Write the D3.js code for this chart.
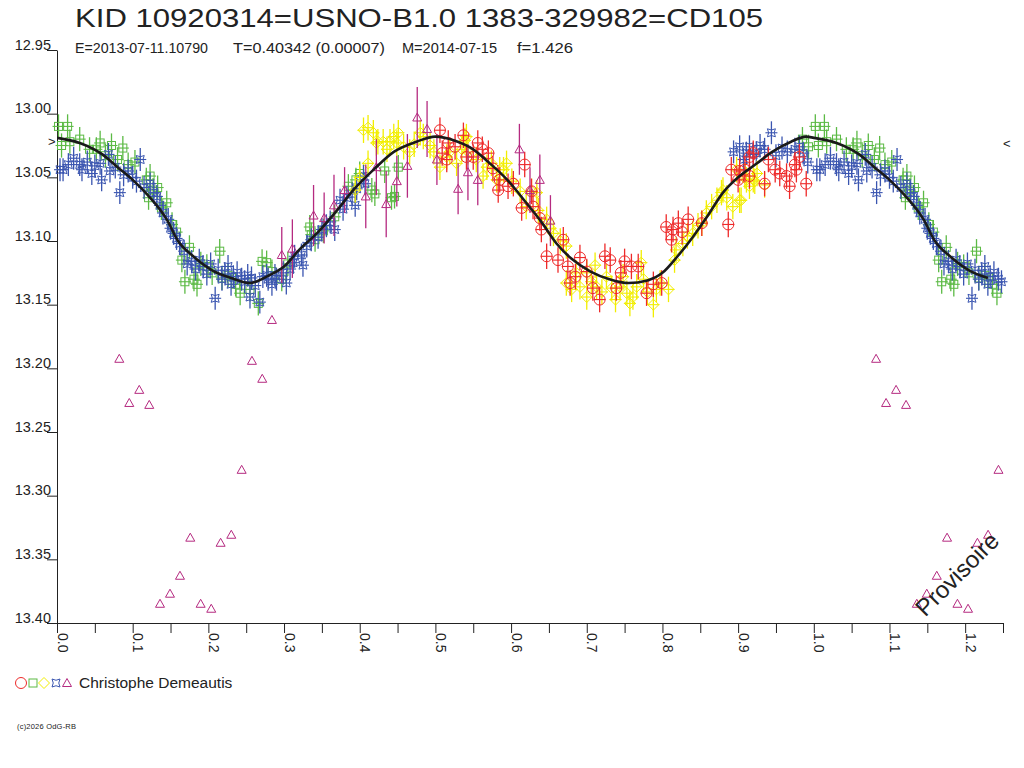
<!DOCTYPE html>
<html>
<head>
<meta charset="utf-8">
<script src="https://cdn.jsdelivr.net/npm/d3@7"></script>
<style>
  body { margin: 0; background: #fff; }
  svg { display: block; font-family: "Liberation Sans", Arial, sans-serif; }
</style>
</head>
<body>
<div id="chart"></div>
<script>
// phase / magnitude (phase 0..1, repeated to 1.25)
const greenPts = [
  [0.002,13.010],[0.014,13.010],[0.006,13.025],[0.017,13.022],[0.030,13.020],[0.043,13.028],
  [0.052,13.028],[0.057,13.023],[0.072,13.025],[0.087,13.027],[0.064,13.033],[0.080,13.036],
  [0.094,13.040],[0.103,13.038],[0.118,13.052],[0.123,13.049],[0.127,13.060],[0.121,13.066],
  [0.133,13.058],[0.138,13.074],[0.145,13.070],[0.152,13.087],[0.158,13.093],[0.165,13.115],
  [0.169,13.132],[0.181,13.130],[0.185,13.134],[0.175,13.105],[0.190,13.118],[0.198,13.120],
  [0.205,13.125],[0.215,13.108],[0.218,13.129],[0.226,13.127],[0.236,13.134],[0.242,13.141],
  [0.255,13.138],[0.266,13.149],[0.271,13.116],[0.277,13.117],[0.284,13.124],[0.297,13.130],
  [0.305,13.118],[0.334,13.089],[0.336,13.095],[0.341,13.099],[0.352,13.092],[0.367,13.081],
  [0.385,13.057],[0.395,13.052],[0.400,13.047],[0.416,13.060],[0.420,13.063],[0.433,13.045],
  [0.442,13.066],[0.446,13.065],[0.451,13.042],[0.985,13.020],[0.993,13.026]
];
const bluePts = [
  [0.004,13.044],[0.008,13.044],[0.015,13.040],[0.022,13.035],[0.030,13.040],[0.033,13.044],
  [0.040,13.038],[0.046,13.047],[0.050,13.041],[0.057,13.039],[0.059,13.052],[0.068,13.032],
  [0.070,13.045],[0.077,13.042],[0.083,13.062],[0.088,13.048],[0.094,13.045],[0.100,13.050],
  [0.105,13.053],[0.110,13.036],[0.115,13.058],[0.123,13.055],[0.128,13.062],[0.132,13.065],
  [0.136,13.072],[0.140,13.078],[0.147,13.083],[0.150,13.090],[0.154,13.094],[0.158,13.098],
  [0.162,13.102],[0.168,13.108],[0.172,13.118],[0.178,13.116],[0.183,13.122],[0.188,13.115],
  [0.193,13.120],[0.198,13.126],[0.203,13.118],[0.209,13.145],[0.213,13.123],[0.218,13.130],
  [0.222,13.126],[0.226,13.120],[0.230,13.134],[0.233,13.128],[0.238,13.125],[0.244,13.130],
  [0.248,13.132],[0.252,13.127],[0.255,13.144],[0.257,13.129],[0.262,13.135],[0.268,13.148],
  [0.272,13.128],[0.277,13.127],[0.279,13.130],[0.284,13.134],[0.288,13.127],[0.290,13.130],
  [0.299,13.125],[0.303,13.133],[0.308,13.122],[0.312,13.117],[0.314,13.112],[0.323,13.111],
  [0.325,13.119],[0.330,13.104],[0.336,13.099],[0.345,13.097],[0.350,13.091],[0.356,13.088],
  [0.361,13.085],[0.367,13.091],[0.374,13.068],[0.378,13.075],[0.383,13.066],[0.390,13.063],
  [0.394,13.072],[0.396,13.059],[0.405,13.049],[0.407,13.055],
  [0.894,13.030],[0.902,13.026],[0.907,13.036],[0.911,13.031],[0.915,13.026],[0.920,13.032],
  [0.924,13.031],[0.929,13.025],[0.935,13.028],[0.944,13.015],[0.950,13.033],[0.958,13.027],
  [0.965,13.030],[0.975,13.028],[0.981,13.026],[0.986,13.031],[0.992,13.038]
];
const yellowPts = [
  [0.394,13.060],[0.400,13.050],[0.405,13.013],[0.411,13.011],[0.411,13.039],[0.418,13.015],
  [0.422,13.023],[0.424,13.022],[0.431,13.022],[0.436,13.028],[0.440,13.022],[0.445,13.018],
  [0.449,13.023],[0.451,13.015],[0.458,13.026],[0.466,13.030],[0.472,13.024],[0.480,13.015],
  [0.484,13.018],[0.493,13.025],[0.498,13.030],[0.506,13.042],[0.515,13.034],[0.519,13.030],
  [0.528,13.039],[0.535,13.028],[0.539,13.021],[0.541,13.018],[0.543,13.030],[0.554,13.036],
  [0.563,13.049],[0.568,13.042],[0.574,13.039],[0.581,13.052],[0.585,13.044],[0.590,13.044],
  [0.594,13.039],[0.601,13.053],[0.612,13.061],[0.620,13.073],[0.627,13.061],[0.634,13.062],
  [0.636,13.076],[0.647,13.083],[0.652,13.090],[0.656,13.094],[0.665,13.100],[0.673,13.104],
  [0.673,13.133],[0.680,13.138],[0.686,13.125],[0.691,13.136],[0.700,13.125],[0.700,13.144],
  [0.706,13.132],[0.711,13.119],[0.713,13.136],[0.720,13.140],[0.726,13.128],[0.733,13.137],
  [0.738,13.146],[0.744,13.136],[0.748,13.128],[0.753,13.141],[0.757,13.149],[0.761,13.144],
  [0.766,13.136],[0.772,13.117],[0.775,13.130],[0.780,13.140],[0.788,13.150],[0.792,13.138],
  [0.797,13.133],[0.808,13.138],[0.816,13.115],[0.818,13.107],[0.827,13.102],[0.833,13.096],
  [0.840,13.094],[0.847,13.088],[0.852,13.086],[0.858,13.078],[0.865,13.073],[0.872,13.068],
  [0.878,13.062],[0.880,13.060],[0.885,13.066],[0.893,13.073],[0.898,13.044],[0.902,13.068],
  [0.904,13.068],[0.909,13.049],[0.911,13.052],[0.915,13.057],[0.920,13.052],[0.922,13.053],
  [0.925,13.047],[0.935,13.056]
];
const redPts = [
  [0.506,13.013],[0.509,13.031],[0.515,13.036],[0.517,13.023],[0.526,13.026],[0.537,13.017],
  [0.541,13.034],[0.550,13.034],[0.556,13.023],[0.562,13.028],[0.570,13.031],[0.576,13.043],
  [0.583,13.060],[0.585,13.052],[0.596,13.057],[0.603,13.055],[0.614,13.074],[0.618,13.040],
  [0.627,13.061],[0.629,13.073],[0.638,13.082],[0.640,13.091],[0.647,13.112],[0.662,13.115],
  [0.669,13.099],[0.675,13.120],[0.678,13.133],[0.685,13.128],[0.691,13.113],[0.700,13.124],
  [0.708,13.137],[0.717,13.146],[0.724,13.112],[0.731,13.115],[0.739,13.137],[0.745,13.125],
  [0.750,13.116],[0.759,13.120],[0.768,13.120],[0.779,13.141],[0.788,13.134],[0.799,13.133],
  [0.805,13.089],[0.812,13.099],[0.814,13.091],[0.821,13.086],[0.826,13.093],[0.834,13.083],
  [0.852,13.086],[0.887,13.087],[0.891,13.044],[0.900,13.052],[0.902,13.045],[0.909,13.044],
  [0.915,13.034],[0.915,13.049],[0.920,13.031],[0.935,13.055],[0.940,13.036],[0.949,13.044],
  [0.955,13.047],[0.964,13.049],[0.968,13.057],[0.975,13.040],[0.977,13.044],[0.981,13.034],
  [0.990,13.055]
];
// phase, magnitude, error (0 = no bar)
const magentaPts = [
  [0.297,13.111,0.022],[0.311,13.106,0.023],[0.339,13.080,0.024],[0.353,13.082,0.020],
  [0.366,13.072,0.024],[0.380,13.060,0.018],[0.408,13.065,0.025],[0.422,13.042,0.022],
  [0.435,13.071,0.026],[0.449,13.053,0.020],[0.463,13.041,0.025],[0.476,13.003,0.024],
  [0.489,13.012,0.022],[0.502,13.036,0.020],[0.530,13.059,0.020],[0.543,13.046,0.022],
  [0.556,13.052,0.020],[0.611,13.028,0.020],[0.625,13.060,0.018],[0.638,13.052,0.020],
  [0.652,13.084,0.020],
  [0.0823,13.1925,0],[0.0955,13.2272,0],[0.1087,13.2169,0],[0.1219,13.2287,0],
  [0.1361,13.3849,0],[0.1493,13.3770,0],[0.1625,13.3629,0],[0.1761,13.3330,0],
  [0.1898,13.3849,0],[0.2038,13.3888,0],[0.2162,13.3370,0],[0.2303,13.3307,0],
  [0.2440,13.2797,0],[0.2576,13.1941,0],[0.2712,13.2082,0],[0.2840,13.1620,0]
];
const seriesErr = { red: 0.010, green: 0.0095, yellow: 0.010, blue: 0.009 };

// fitted light curve
const fitPhase = [0.00,0.03,0.06,0.08,0.10,0.12,0.145,0.16,0.18,0.205,0.23,0.255,0.28,0.30,0.32,
  0.345,0.37,0.39,0.42,0.445,0.475,0.50,0.525,0.55,0.57,0.595,0.62,0.64,0.66,0.68,0.705,0.73,
  0.755,0.78,0.80,0.82,0.84,0.86,0.88,0.90,0.925,0.945,0.97,0.99];
const fitMag = [13.019,13.023,13.032,13.042,13.052,13.064,13.083,13.100,13.112,13.123,13.129,13.133,
  13.127,13.120,13.107,13.093,13.076,13.061,13.043,13.030,13.022,13.018,13.021,13.028,13.038,13.052,
  13.070,13.085,13.102,13.114,13.124,13.130,13.133,13.131,13.125,13.112,13.097,13.080,13.062,13.050,
  13.039,13.030,13.022,13.018];

const yTickValues = [12.95,13.00,13.05,13.10,13.15,13.20,13.25,13.30,13.35,13.40];
const xTickLabels = ["0.0","0.1","0.2","0.3","0.4","0.5","0.6","0.7","0.8","0.9","1.0","1.1","1.2"];

const title = "KID 10920314=USNO-B1.0 1383-329982=CD105";
const subtitleParts = ["E=2013-07-11.10790", "T=0.40342 (0.00007)", "M=2014-07-15", "f=1.426"];
const observer = "Christophe Demeautis";

const width = 1024, height = 768;
const ink = "#222";
const colors = { red: "#ee2a2a", green: "#5cba45", yellow: "#f2ee00", blue: "#3a55b0", magenta: "#b52a80" };

const svg = d3.select("#chart").append("svg")
    .attr("width", width)
    .attr("height", height);

const x = d3.scaleLinear().domain([0, 1.25]).range([57, 1003]);
const y = d3.scaleLinear().domain([12.95, 13.40]).range([50, 623]);

// phases below 0.25 are drawn again one cycle later
function expand(pts) {
    const out = pts.slice();
    pts.forEach(p => { if (p[0] + 1 <= 1.25) out.push([p[0] + 1].concat(p.slice(1))); });
    return out;
}

//titles
svg.append("text")
    .attr("x", 75).attr("y", 27)
    .attr("font-size", 25)
    .attr("fill", ink)
    .attr("textLength", 688)
    .attr("lengthAdjust", "spacingAndGlyphs")
    .text(title);

const subX = [75, 233, 402, 517];
const subW = [133, 152, 95, 56];
subtitleParts.forEach((s, i) => {
    svg.append("text")
        .attr("x", subX[i]).attr("y", 53)
        .attr("font-size", 14)
        .attr("fill", ink)
        .attr("textLength", subW[i])
        .attr("lengthAdjust", "spacingAndGlyphs")
        .text(s);
});

//axes
const yAxis = d3.axisLeft(y)
    .tickValues(yTickValues)
    .tickFormat(d3.format(".2f"))
    .tickSize(10)
    .tickSizeOuter(0);
const gy = svg.append("g")
    .attr("transform", "translate(57,0)")
    .call(yAxis)
    .attr("font-size", null).attr("font-family", null);
gy.selectAll("line, path").attr("stroke", ink);
gy.selectAll("text")
    .attr("x", -6).attr("dy", "-1")
    .attr("font-size", 14.5)
    .attr("fill", ink);

const xTickValues = d3.range(0, 1.2501, 0.05);
const xAxis = d3.axisBottom(x)
    .tickValues(xTickValues)
    .tickFormat((d, i) => i % 2 === 0 ? xTickLabels[i / 2] : "")
    .tickSize(10)
    .tickSizeOuter(0);
const gx = svg.append("g")
    .attr("transform", "translate(0,623)")
    .call(xAxis)
    .attr("font-size", null).attr("font-family", null);
gx.selectAll("line, path").attr("stroke", ink);
gx.selectAll("text")
    .attr("transform", "rotate(90)")
    .attr("x", 10).attr("y", 0).attr("dy", "0")
    .attr("text-anchor", "start")
    .attr("font-size", 14)
    .attr("fill", ink);

//markers
function marker(g, kind, color) {
    if (kind === "red") {
        g.append("circle").attr("r", 5.5).attr("fill", "none").attr("stroke", color);
    } else if (kind === "green") {
        g.append("rect").attr("x", -4).attr("y", -4).attr("width", 8).attr("height", 8)
            .attr("fill", "none").attr("stroke", color);
    } else if (kind === "yellow") {
        g.append("path").attr("d", "M0,-5.5L5.5,0L0,5.5L-5.5,0Z").attr("fill", "none").attr("stroke", color);
    } else if (kind === "blue") {
        g.append("path").attr("d", "M-4,-4Q0,-1.5 4,-4Q1.5,0 4,4Q0,1.5 -4,4Q-1.5,0 -4,-4Z")
            .attr("fill", "none").attr("stroke", color);
    } else {
        g.append("path").attr("d", "M0,-4.5L4.5,3.5L-4.5,3.5Z").attr("fill", "none").attr("stroke", color);
    }
}

const plot = svg.append("g");

function drawSeries(pts, kind) {
    const color = colors[kind];
    const data = expand(pts);
    const g = plot.append("g").attr("class", kind);
    data.forEach(d => {
        const err = kind === "magenta" ? d[2] : seriesErr[kind];
        const px = x(d[0]), py = y(d[1]);
        if (err > 0) {
            g.append("line")
                .attr("x1", px).attr("x2", px)
                .attr("y1", y(d[1] - err)).attr("y2", y(d[1] + err))
                .attr("stroke", color).attr("stroke-width", 1.3);
        }
        if (kind !== "magenta") {
            g.append("line")
                .attr("x1", px - 6).attr("x2", px + 6)
                .attr("y1", py).attr("y2", py)
                .attr("stroke", color).attr("stroke-width", 1.1);
        }
        const m = g.append("g").attr("transform", `translate(${px},${py})`);
        marker(m, kind, color);
    });
}

drawSeries(greenPts, "green");
drawSeries(bluePts, "blue");
drawSeries(yellowPts, "yellow");
drawSeries(redPts, "red");
drawSeries(magentaPts, "magenta");

//fit curve
const fit = expand(fitPhase.map((p, i) => [p, fitMag[i]])).sort((a, b) => a[0] - b[0]);
svg.append("clipPath").attr("id", "clip")
    .append("rect").attr("x", 57).attr("y", 40).attr("width", 946).attr("height", 590);
const line = d3.line()
    .x(d => x(d[0]))
    .y(d => y(d[1]))
    .curve(d3.curveMonotoneX);
svg.append("path")
    .datum(fit)
    .attr("clip-path", "url(#clip)")
    .attr("d", line)
    .attr("fill", "none")
    .attr("stroke", "#1a1a1a")
    .attr("stroke-width", 2.6);

// maximum markers
svg.append("text").attr("x", 48).attr("y", 146).attr("font-size", 13).attr("fill", ink).text(">");
svg.append("text").attr("x", 1003).attr("y", 148).attr("font-size", 13).attr("fill", ink).text("<");

// watermark
svg.append("text")
    .attr("transform", "translate(957,574) rotate(-45)")
    .attr("text-anchor", "middle")
    .attr("dy", "0.35em")
    .attr("font-size", 24)
    .attr("fill", ink)
    .text("Provisoire");

//legend
const legendKinds = ["red", "green", "yellow", "blue", "magenta"];
const legendX = [21, 33, 44, 56, 67];
legendKinds.forEach((k, i) => {
    const m = svg.append("g").attr("transform", `translate(${legendX[i]},683)`);
    marker(m, k, colors[k]);
});
svg.append("text")
    .attr("x", 79).attr("y", 688)
    .attr("font-size", 15.5)
    .attr("fill", ink)
    .text(observer);

svg.append("text")
    .attr("x", 17).attr("y", 729)
    .attr("font-size", 7.5)
    .attr("fill", ink)
    .attr("textLength", 59)
    .text("(c)2026 OdG-RB");
</script>
</body>
</html>
